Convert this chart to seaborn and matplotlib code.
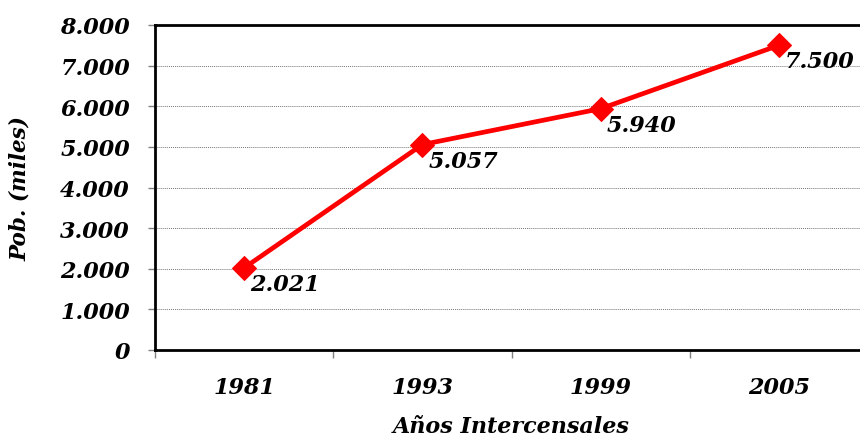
import matplotlib
matplotlib.use("Agg")
import matplotlib.pyplot as plt
import seaborn as sns
import numpy as np
import pandas as pd
from matplotlib.ticker import FixedLocator, FuncFormatter

years = ["1981", "1993", "1999", "2005"]
population = [2021, 5057, 5940, 7500]
value_labels = ["2.021", "5.057", "5.940", "7.500"]

sns.set_style("white")
plt.rcParams['font.family'] = ['DejaVu Serif']
plt.rcParams['text.color'] = 'black'
plt.rcParams['axes.labelcolor'] = 'black'

df = pd.DataFrame({"pos": np.arange(len(years)), "pob": population})

fig = plt.figure(figsize=(8.6, 4.39), dpi=100)
W, H = 860, 439
left, right, top, bottom = 155, 868, 26, 351
ax = fig.add_axes([left / W, 1 - bottom / H, (right - left) / W, (bottom - top) / H])

sns.lineplot(data=df, x="pos", y="pob", ax=ax, color="#ff0000", linewidth=3.4,
             marker="D", markersize=12.5, markeredgecolor="#ff0000", zorder=5, clip_on=False)

ax.set_xlim(-0.5, len(years) - 0.5)
ax.set_ylim(0, 8000)

FS = 16

# y axis
ax.yaxis.set_major_locator(FixedLocator(np.arange(0, 8001, 1000)))
ax.yaxis.set_major_formatter(FuncFormatter(lambda v, p: "0" if v == 0 else f"{int(v):,}".replace(",", ".")))
ax.tick_params(axis="y", length=5, width=1, color="#808080", labelcolor="black", pad=13, left=True)
for lab in ax.get_yticklabels():
    lab.set_fontsize(FS); lab.set_fontweight("bold"); lab.set_fontstyle("italic")

# x axis: ticks at boundaries, labels at centers
ax.xaxis.set_major_locator(FixedLocator(np.arange(-0.5, len(years), 1.0)))
ax.xaxis.set_major_formatter(FuncFormatter(lambda v, p: ""))
ax.set_xticks(np.arange(len(years)), minor=True)
ax.set_xticklabels(years, minor=True)
ax.tick_params(axis="x", which="major", length=6, width=1, color="#808080", bottom=True)
ax.tick_params(axis="x", which="minor", length=0, pad=19, labelcolor="black")
for lab in ax.get_xticklabels(minor=True):
    lab.set_fontsize(FS); lab.set_fontweight("bold"); lab.set_fontstyle("italic")

# gridlines
ax.grid(False)
ax.yaxis.grid(True, linestyle=(0, (1, 1)), color="#777777", linewidth=0.7)
ax.set_axisbelow(True)

for side in ["left", "bottom", "top"]:
    ax.spines[side].set_visible(True)
    ax.spines[side].set_color("black")
    ax.spines[side].set_linewidth(2)
ax.spines["right"].set_visible(False)

ax.set_xlabel("Años Intercensales", fontsize=16, fontweight="bold", fontstyle="italic", labelpad=12)
ax.set_ylabel("Pob. (miles)", fontsize=15.5, fontweight="bold", fontstyle="italic", labelpad=21)

for i, (v, t) in enumerate(zip(population, value_labels)):
    ax.annotate(t, (i, v), xytext=(6, -5), textcoords="offset pixels",
                ha="left", va="top", fontsize=FS, fontweight="bold", fontstyle="italic",
                color="#000000", zorder=6)

fig.savefig("out.png", dpi=100)
